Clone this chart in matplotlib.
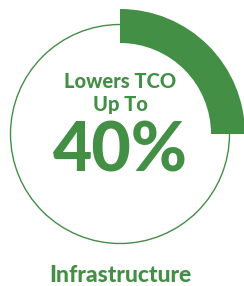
import matplotlib
matplotlib.use('Agg')
import matplotlib.pyplot as plt
from matplotlib.patches import Circle

plt.rcParams['font.family'] = ['Lato', 'DejaVu Sans']

GREEN = '#438F45'

# data
share = [25, 75]          # highlighted arc vs rest
headline = ['Lowers TCO', 'Up To']
big_value = '40%'
category = 'Infrastructure'

fig = plt.figure(figsize=(2.44, 2.86), dpi=100)
ax = fig.add_axes([0, 0, 1, 1])
fig.patch.set_facecolor('white')

cx, cy = 120, 152

# thick quarter arc
ax.pie(share, radius=125, center=(cx, cy), startangle=90, counterclock=False,
       colors=[GREEN, 'none'], wedgeprops=dict(width=34, edgecolor='none'))

# thin full circle
ax.add_patch(Circle((cx, cy), 109.5, fill=False, edgecolor=GREEN, lw=1.0, zorder=1))

ax.text(cx, 204, headline[0], fontsize=14.5, fontweight='black', color=GREEN,
        ha='center', va='center')
ax.text(cx, 181, headline[1], fontsize=14.5, fontweight='black', color=GREEN,
        ha='center', va='center')
ax.text(cx, 134, big_value, fontsize=49, fontweight='black', color=GREEN,
        ha='center', va='center')
ax.text(cx, 10, category, fontsize=16.5, fontweight='black', color=GREEN,
        ha='center', va='center')

ax.set_xlim(0, 244)
ax.set_ylim(0, 286)
ax.set_aspect('auto')
ax.axis('off')

plt.savefig('out.png', dpi=100, facecolor='white')
